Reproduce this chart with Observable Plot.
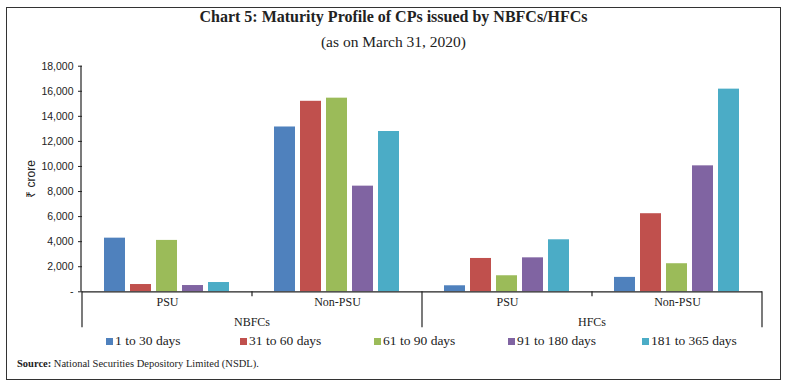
<!DOCTYPE html>
<html><head><meta charset="utf-8">
<script src="https://cdn.jsdelivr.net/npm/d3@7"></script>
<script src="https://cdn.jsdelivr.net/npm/@observablehq/plot@0.6"></script>
<style>
body{margin:0;background:#fff;}
#wrap{position:relative;width:787px;height:386px;overflow:hidden;font-family:"Liberation Serif",serif;color:#222;}
#frame{position:absolute;left:6px;top:7px;width:775px;height:373px;border:1.5px solid #333;box-sizing:border-box;}
#title{position:absolute;top:8px;left:0;width:787px;text-align:center;font-weight:bold;font-size:16px;}
#subtitle{position:absolute;top:33px;left:0;width:787px;text-align:center;font-size:15.5px;}
#chart{position:absolute;left:0;top:56px;}
#legend{position:absolute;top:333px;left:106px;display:grid;grid-template-columns:repeat(5,134px);font-size:13.5px;}
.item{display:flex;align-items:center;white-space:nowrap;}
.sw{display:inline-block;width:7px;height:7px;margin-right:2px;}
#source{position:absolute;left:17px;top:358px;font-size:10.5px;}
</style></head>
<body>
<div id="wrap">
  <div id="frame"></div>
  <div id="title">Chart 5: Maturity Profile of CPs issued by NBFCs/HFCs</div>
  <div id="subtitle">(as on March 31, 2020)</div>
  <div id="chart"></div>
  <div id="legend"></div>
  <div id="source"><b>Source:</b> National Securities Depository Limited (NSDL).</div>
</div>
<script>
// ---- data ----
const groups = ["NBFCs", "NBFCs", "HFCs", "HFCs"];
const sectors = ["PSU", "Non-PSU", "PSU", "Non-PSU"];
const series = ["1 to 30 days", "31 to 60 days", "61 to 90 days", "91 to 180 days", "181 to 365 days"];
const colors = ["#4F81BD", "#C0504D", "#9BBB59", "#8064A2", "#4BACC6"];
const days1to30 = [4280, 13150, 480, 1150];
const days31to60 = [580, 15200, 2660, 6230];
const days61to90 = [4100, 15450, 1280, 2240];
const days91to180 = [500, 8430, 2710, 10050];
const days181to365 = [740, 12790, 4150, 16170];
const yTicks = [0, 2000, 4000, 6000, 8000, 10000, 12000, 14000, 16000, 18000];

const valuesBySeries = [days1to30, days31to60, days61to90, days91to180, days181to365];
const keys = groups.map((g, i) => g + "|" + sectors[i]);
const data = [];
series.forEach((s, si) => keys.forEach((k, ki) => data.push({key: k, series: s, value: valuesBySeries[si][ki]})));

const W = 787, H = 280, mL = 81, mR = 24.5, mT = 9.7, mB = 44.7;
const plot = Plot.plot({
  width: W, height: H,
  marginLeft: mL, marginRight: mR, marginTop: mT, marginBottom: mB,
  style: {fontFamily: "Liberation Sans, sans-serif", fontSize: "10px", color: "#222", background: "transparent"},
  fx: {domain: keys, padding: 0, label: null},
  x: {domain: series, paddingInner: 0.19, paddingOuter: 0.835, axis: null},
  y: {domain: [0, 18000], label: null},
  color: {domain: series, range: colors},
  marks: [
    Plot.barY(data, {fx: "key", x: "series", y: "value", fill: "series"}),
    Plot.ruleY([0], {stroke: "#222", strokeWidth: 1.2}),
    Plot.axisY({ticks: yTicks, tickSize: 4, tickPadding: 5,
      tickFormat: d => d === 0 ? "-" : d3.format(",")(d), label: null, fontSize: 10.5}),
    Plot.axisY({ticks: [], label: "₹ crore", labelAnchor: "center", labelArrow: "none", labelOffset: 56, fontSize: 12}),
    Plot.axisFx({anchor: "bottom", tickSize: 0, tickPadding: 6, tickFormat: d => d.split("|")[1],
      label: null, fontFamily: "Liberation Serif, serif", fontSize: 12})
  ]
});
document.getElementById("chart").appendChild(plot);

// hierarchical axis decorations via the plot's own scales
const fx = plot.scale("fx"), y = plot.scale("y");
const svg = d3.select(plot);
const y0 = y.apply(0), yTop = y.apply(18000);
const g = svg.append("g").attr("stroke", "#222").attr("stroke-width", 1.2);
g.append("line").attr("x1", mL).attr("x2", mL).attr("y1", yTop).attr("y2", y0);
const bw = fx.bandwidth;
keys.forEach((k, i) => {
  const left = fx.apply(k);
  const major = i === 0 || groups[i] !== groups[i - 1];
  g.append("line").attr("x1", left).attr("x2", left).attr("y1", y0).attr("y2", y0 + (major ? 36 : 5));
});
const lastRight = fx.apply(keys[keys.length - 1]) + bw;
g.append("line").attr("x1", lastRight).attr("x2", lastRight).attr("y1", y0).attr("y2", y0 + 36);
const majors = Array.from(new Set(groups));
majors.forEach(m => {
  const ks = keys.filter((k, i) => groups[i] === m);
  const x1 = fx.apply(ks[0]), x2 = fx.apply(ks[ks.length - 1]) + bw;
  svg.append("text").attr("x", (x1 + x2) / 2).attr("y", y0 + 32)
    .attr("text-anchor", "middle").attr("dominant-baseline", "middle")
    .attr("font-family", "Liberation Serif, serif").attr("font-size", 12).attr("fill", "#222")
    .text(m);
});

// legend
const lg = d3.select("#legend");
series.forEach((s, i) => {
  const it = lg.append("div").attr("class", "item");
  it.append("span").attr("class", "sw").style("background", colors[i]);
  it.append("span").text(s);
});
</script>
</body></html>
